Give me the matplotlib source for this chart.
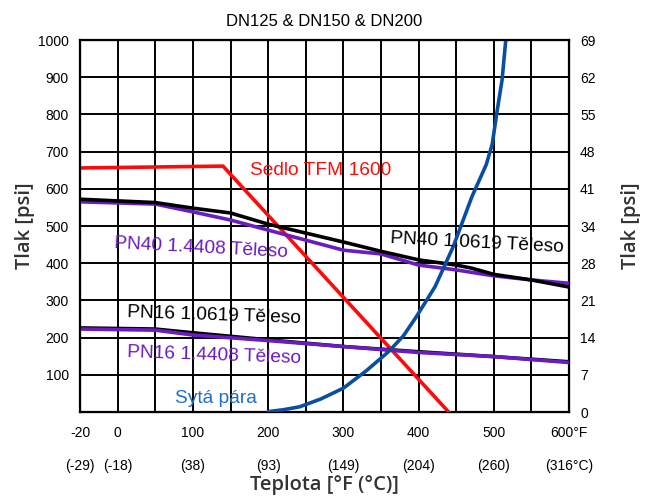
import numpy as np
import matplotlib
matplotlib.use('Agg')
import matplotlib.pyplot as plt

plt.rcParams['font.family'] = ['Liberation Sans', 'DejaVu Sans']

# temperatures in degF, pressure in psi
seat_t = [-20, 140, 440]
seat_p = [656, 661, 0]

pn40_1_0619_t = [-20, 50, 100, 150, 200, 250, 300, 350, 400, 450, 470, 500, 550, 600]
pn40_1_0619_p = [572, 563, 548, 535, 505, 481, 457, 432, 409, 395, 387, 370, 355, 336]

pn40_1_4408_t = [-20, 50, 100, 150, 200, 250, 300, 350, 400, 450, 500, 550, 600]
pn40_1_4408_p = [565, 559, 538, 516, 489, 462, 435, 425, 395, 382, 366, 355, 346]

pn16_1_0619_t = [-20, 50, 100, 200, 300, 350, 400, 500, 600]
pn16_1_0619_p = [226, 223, 213, 194, 176, 169, 162, 149, 135]

pn16_1_4408_t = [-20, 50, 100, 200, 300, 400, 500, 600]
pn16_1_4408_p = [223, 220, 207, 192, 176, 160, 149, 133]

steam_t = [200, 220, 242, 270, 300, 330, 360, 380, 397, 422, 446, 471, 490, 498, 504, 511, 516]
steam_p = [1, 6, 14, 35, 64, 110, 162, 205, 256, 337, 444, 579, 665, 720, 803, 892, 1000]

f_ticks = [-20, 0, 50, 100, 150, 200, 250, 300, 350, 400, 450, 500, 550, 600]
f_labels = ['-20', '0', '', '100', '', '200', '', '300', '', '400', '', '500', '', '600°F']
c_labels = ['(-29)', '(-18)', '', '(38)', '', '(93)', '', '(149)', '', '(204)', '', '(260)', '', '(316°C)']
psi_ticks = list(range(0, 1001, 100))
bar_labels = ['0', '7', '14', '21', '28', '34', '41', '48', '55', '62', '69']


def fwd(x):
    x = np.asarray(x, dtype=float)
    return np.where(x < 0, (x + 20) / 20, 1 + x / 50)


def inv(p):
    p = np.asarray(p, dtype=float)
    return np.where(p < 1, p * 20 - 20, (p - 1) * 50)


fig = plt.figure(figsize=(6.51, 5), dpi=100)
ax = fig.add_axes([0.123, 0.176, 0.751, 0.744])
ax.set_xscale('function', functions=(fwd, inv))
ax.set_xlim(-20, 600)
ax.set_ylim(0, 1000)

purple = '#6a1cc4'
ax.plot(seat_t, seat_p, color='#ff0a0a', lw=2.6, zorder=3)
ax.plot(pn40_1_4408_t, pn40_1_4408_p, color=purple, lw=2.6, zorder=3)
ax.plot(pn40_1_0619_t, pn40_1_0619_p, color='black', lw=2.6, zorder=3)
ax.plot(pn16_1_0619_t, pn16_1_0619_p, color='black', lw=2.6, zorder=3)
ax.plot(pn16_1_4408_t, pn16_1_4408_p, color=purple, lw=2.6, zorder=3)
ax.plot(steam_t, steam_p, color='#0a4ea4', lw=2.6, zorder=4, solid_capstyle='round')

ax.set_xticks(f_ticks)
ax.set_xticklabels([f + '\n' + c for f, c in zip(f_labels, c_labels)],
                   fontsize=10, linespacing=2.7)
ax.set_yticks(psi_ticks)
ax.set_yticklabels([''] + [str(v) for v in psi_ticks[1:]], fontsize=10)
ax.tick_params(length=0, pad=8)
ax.tick_params(axis='x', pad=10)
ax.grid(True, color='black', lw=1.4)
for s in ax.spines.values():
    s.set_linewidth(1.6)

ax2 = ax.twinx()
ax2.set_ylim(0, 1000)
ax2.set_yticks(psi_ticks)
ax2.set_yticklabels(bar_labels, fontsize=10)
ax2.tick_params(length=0, pad=8)

lab_font = dict(family=['Open Sans', 'DejaVu Sans'], fontsize=14.5, color='#333333', fontweight='semibold')
ax.set_ylabel('Tlak [psi]', labelpad=2, **lab_font)
ax2.set_ylabel('Tlak [psi]', labelpad=18, **lab_font)
ax.set_xlabel('Teplota [°F (°C)]', labelpad=2, **lab_font)
ax.set_title('DN125 & DN150 & DN200', fontsize=12, pad=10)

fs = 13.8
ax.text(176, 650, 'Sedlo TFM 1600', color='#ff0a0a', fontsize=fs, va='center', zorder=5)
ax.text(362, 455, 'PN40 1.0619 Těleso', color='black', fontsize=fs, va='center', rotation=-3, zorder=5)
ax.text(-2, 441, 'PN40 1.4408 Těleso', color=purple, fontsize=fs, va='center', rotation=-3, zorder=5)
ax.text(12, 258, 'PN16 1.0619 Těleso', color='black', fontsize=fs, va='center', rotation=-2, zorder=5)
ax.text(12, 153, 'PN16 1.4408 Těleso', color=purple, fontsize=fs, va='center', rotation=-2, zorder=5)
ax.text(76, 35, 'Sytá pára', color='#1f6fcc', fontsize=fs, va='center', zorder=5)

fig.savefig('out.png', dpi=100)
